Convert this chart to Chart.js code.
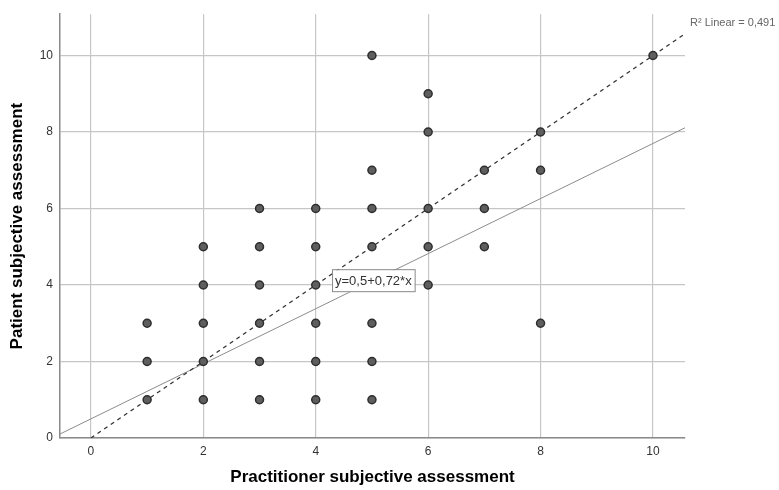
<!DOCTYPE html>
<html>
<head>
<meta charset="utf-8">
<script src="https://cdn.jsdelivr.net/npm/chart.js@4"></script>
<style>
  html, body { margin: 0; padding: 0; background: #fff; }
  #wrap { width: 779px; height: 490px; }
</style>
</head>
<body>
<div id="wrap"><canvas id="scatter" width="779" height="490"></canvas></div>
<script>
// data
const practitioner = [1,1,1, 2,2,2,2,2, 3,3,3,3,3,3, 4,4,4,4,4,4, 5,5,5,5,5,5,5, 6,6,6,6,6, 7,7,7, 8,8,8, 10];
const patient      = [1,2,3, 1,2,3,4,5, 1,2,3,4,5,6, 1,2,3,4,5,6, 1,2,3,5,6,7,10, 4,5,6,8,9, 5,6,7, 3,7,8, 10];
const xTicks = [0, 2, 4, 6, 8, 10];
const yTicks = [0, 2, 4, 6, 8, 10];
const xRange = [-0.55, 10.57];
const yRange = [0, 11.08];
const fitIntercept = 0.5, fitSlope = 0.72;
const fitLabel = "y=0,5+0,72*x";
const r2Label = "R\u00B2 Linear = 0,491";

const pts = practitioner.map((x, i) => ({ x: x, y: patient[i] }));
const fitPts = xRange.map(x => ({ x: x, y: fitIntercept + fitSlope * x }));
const refPts = [{ x: 0, y: 0 }, { x: xRange[1], y: xRange[1] }];

// text annotations (equation box + R2)
const notes = {
  id: "notes",
  afterDatasetsDraw(chart) {
    const ctx = chart.ctx, xs = chart.scales.x, ys = chart.scales.y;
    ctx.save();
    ctx.font = "13px 'Liberation Sans', Arial, sans-serif";
    const w = ctx.measureText(fitLabel).width + 6;
    const bx = xs.getPixelForValue(4.29), by = ys.getPixelForValue(4.1);
    ctx.fillStyle = "#fff";
    ctx.fillRect(bx, by - 11, w, 22);
    ctx.strokeStyle = "#8a8a8a";
    ctx.lineWidth = 1;
    ctx.strokeRect(bx + 0.5, by - 11.5, w, 22);
    ctx.fillStyle = "#333";
    ctx.textBaseline = "middle";
    ctx.fillText(fitLabel, bx + 3, by);

    ctx.font = "11px 'Liberation Sans', Arial, sans-serif";
    ctx.fillStyle = "#666";
    ctx.fillText(r2Label, chart.chartArea.right + 5, 23);
    ctx.restore();
  }
};

new Chart(document.getElementById("scatter"), {
  type: "scatter",
  data: {
    datasets: [
      {
        type: "line",
        data: fitPts,
        borderColor: "#8c8c8c",
        borderWidth: 1,
        pointRadius: 0,
        fill: false,
        order: 3
      },
      {
        type: "line",
        data: refPts,
        borderColor: "#333",
        borderWidth: 1.3,
        borderDash: [4, 4],
        pointRadius: 0,
        fill: false,
        order: 2
      },
      {
        data: pts,
        backgroundColor: "#5e5e5e",
        borderColor: "#2e2e2e",
        borderWidth: 1.5,
        pointRadius: 4,
        order: 1
      }
    ]
  },
  options: {
    responsive: false,
    animation: false,
    layout: { padding: { top: 13, right: 94, left: 0, bottom: 0 } },
    plugins: { legend: { display: false }, tooltip: { enabled: false } },
    scales: {
      x: {
        type: "linear",
        min: xRange[0],
        max: xRange[1],
        afterBuildTicks: s => { s.ticks = xTicks.map(v => ({ value: v })); },
        afterFit: s => { s.height = 52; },
        grid: { color: "#c6c6c6", lineWidth: 1.2, drawTicks: false },
        border: { color: "#8a8a8a", width: 1.5 },
        ticks: { padding: 6, color: "#333", font: { family: "'Liberation Sans', Arial", size: 12 } },
        title: {
          display: true,
          text: "Practitioner subjective assessment",
          color: "#000",
          padding: { top: 0, bottom: 2 },
          font: { family: "'Liberation Sans', Arial", size: 17, weight: "bold" }
        }
      },
      y: {
        type: "linear",
        min: yRange[0],
        max: yRange[1],
        afterBuildTicks: s => { s.ticks = yTicks.map(v => ({ value: v })); },
        afterFit: s => { s.width = 60; },
        grid: { color: "#c6c6c6", lineWidth: 1.2, drawTicks: false },
        border: { color: "#8a8a8a", width: 1.5 },
        ticks: { padding: 7, color: "#333", font: { family: "'Liberation Sans', Arial", size: 12 } },
        title: {
          display: true,
          text: "Patient subjective assessment",
          color: "#000",
          padding: { top: 7, bottom: 0 },
          font: { family: "'Liberation Sans', Arial", size: 17, weight: "bold" }
        }
      }
    }
  },
  plugins: [notes]
});
</script>
</body>
</html>
